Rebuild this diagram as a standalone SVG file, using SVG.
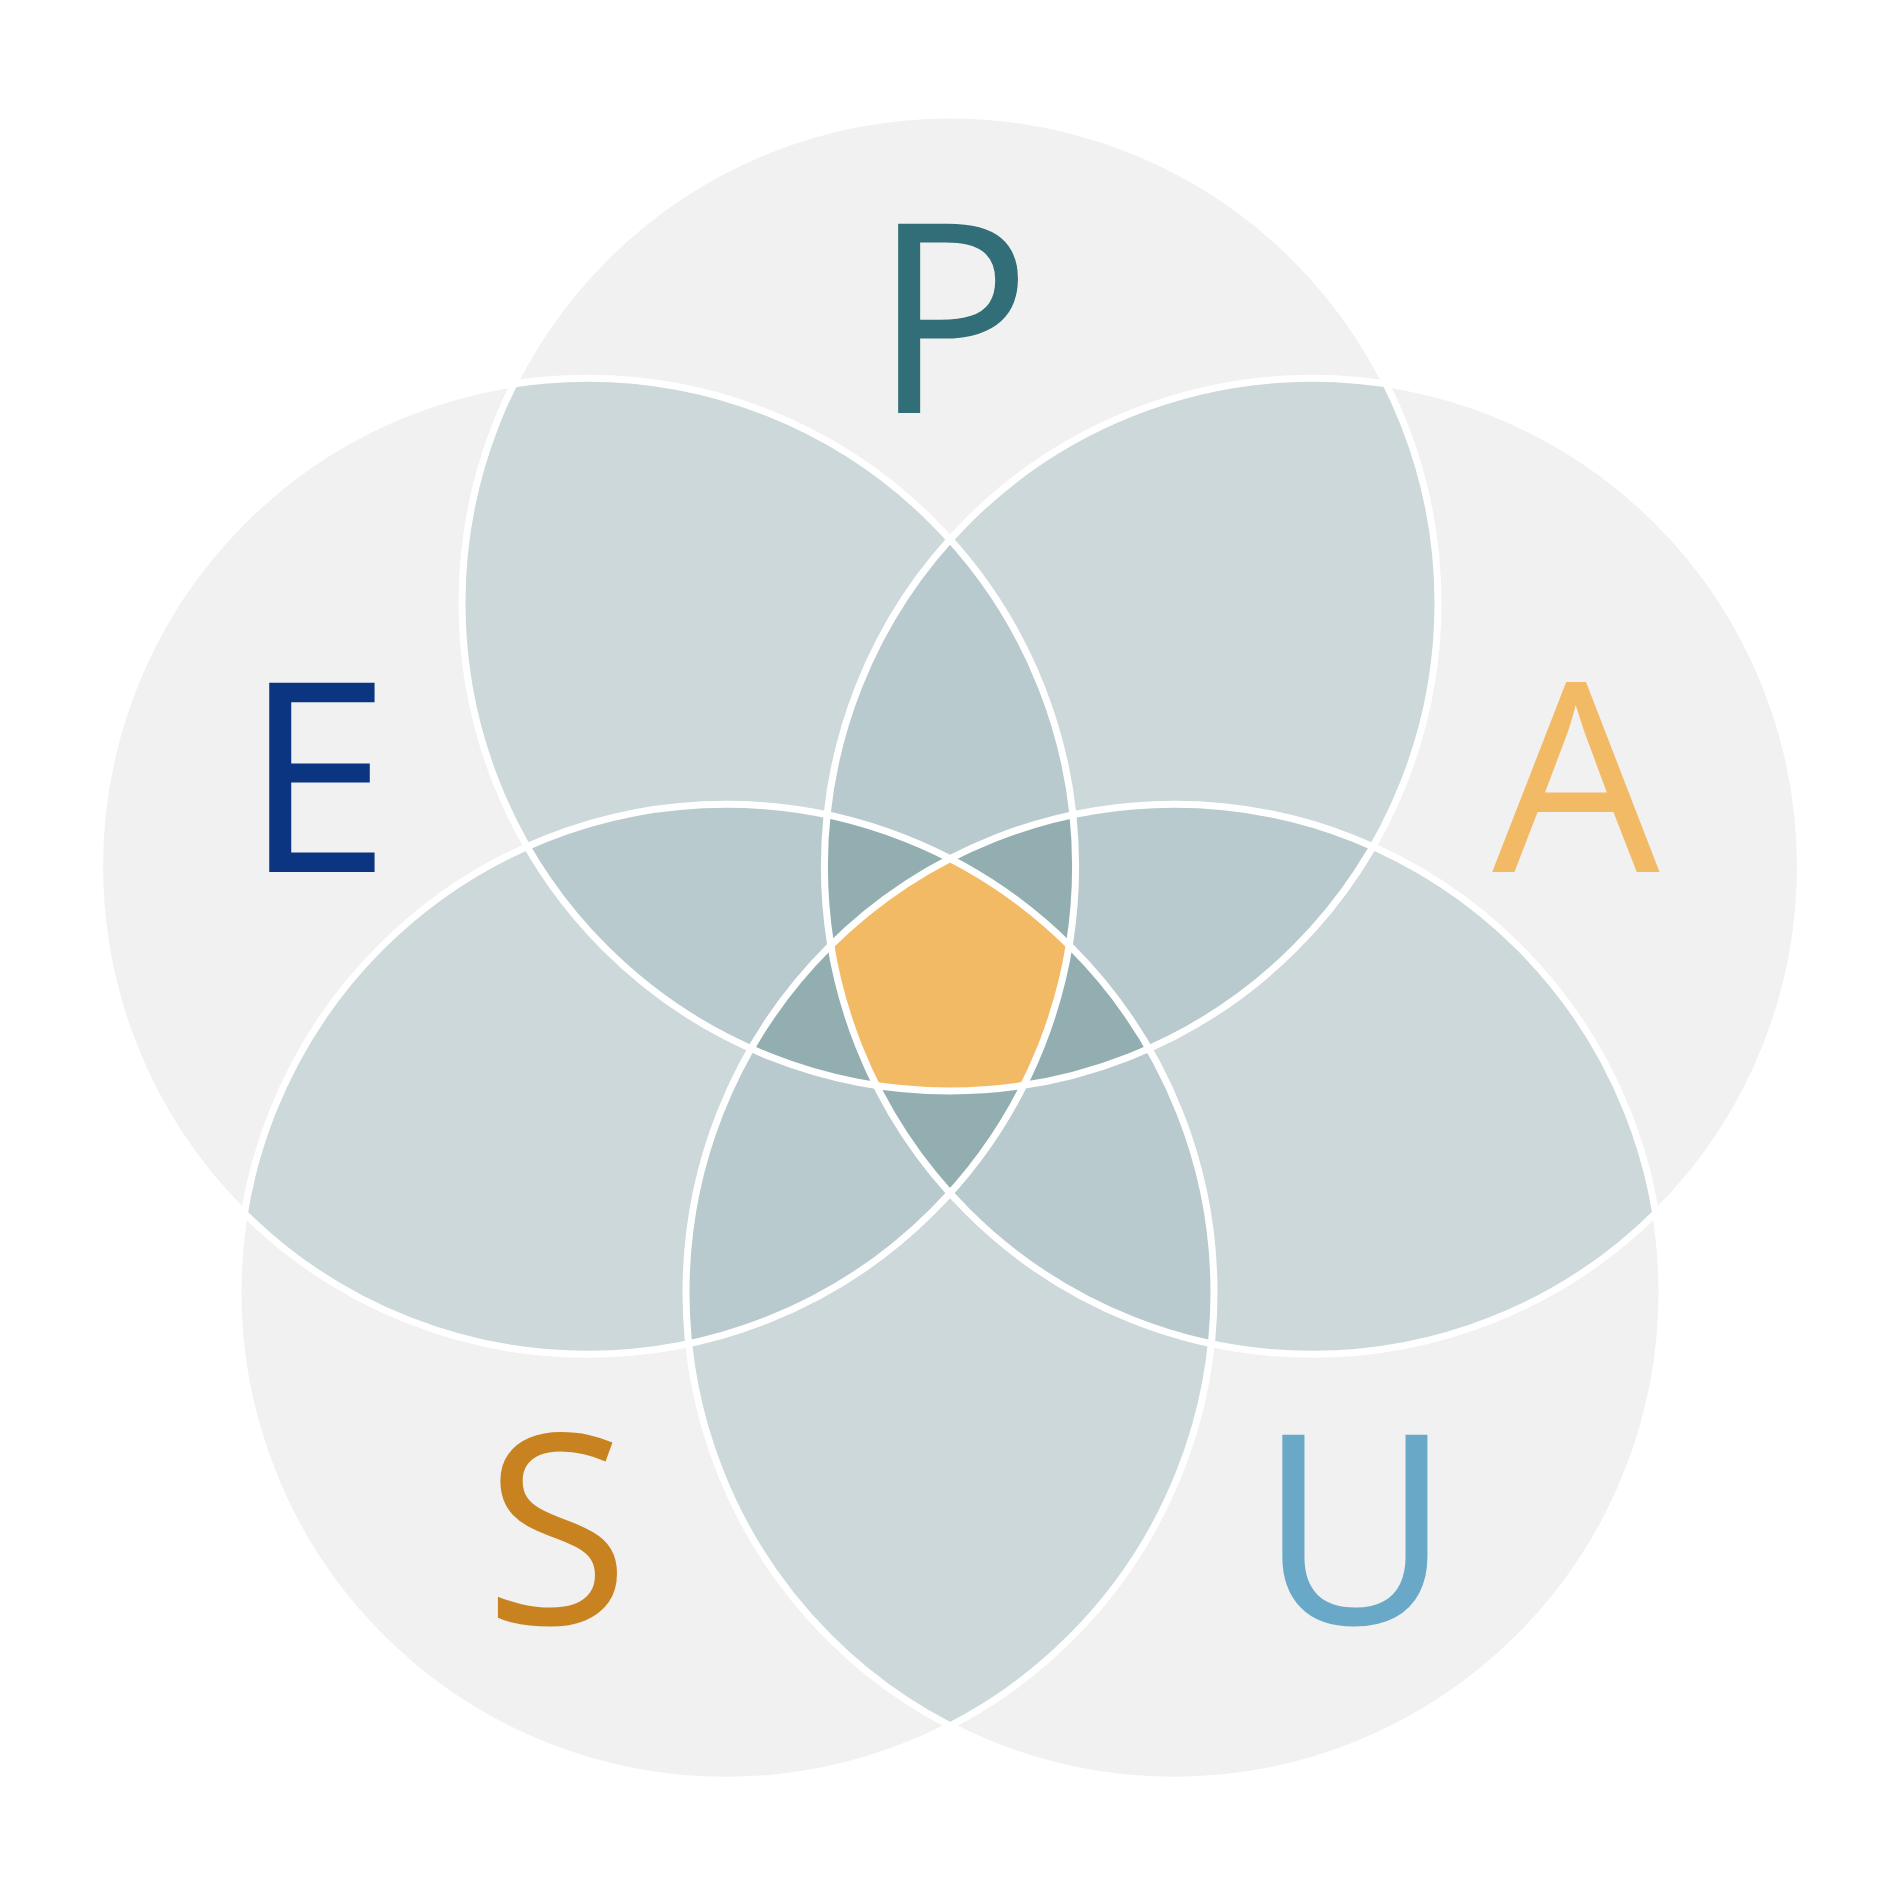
<svg xmlns="http://www.w3.org/2000/svg" xmlns:xlink="http://www.w3.org/1999/xlink" width="1890" height="1890" viewBox="0 0 1890 1890">
<style>
.base{fill:#F0F1F0}
.l2{fill:#CDD8DA}
.l3{fill:#B8CACD}
.l4{fill:#92AEB1}
.l5{fill:#F3BA66}
.ring{fill:none;stroke:#FFFFFF;stroke-width:7}
.lbl{font-family:"Open Sans","Liberation Sans",sans-serif;font-size:265px;font-weight:400;text-anchor:middle}
</style>
<defs>
<circle id="k0" cx="950" cy="603" r="488"/>
<circle id="k1" cx="587.6" cy="866.3" r="488"/>
<circle id="k2" cx="1312.4" cy="866.3" r="488"/>
<circle id="k3" cx="726" cy="1292.2" r="488"/>
<circle id="k4" cx="1174" cy="1292.2" r="488"/>
<clipPath id="c0"><use xlink:href="#k0"/></clipPath>
<clipPath id="c1"><use xlink:href="#k1"/></clipPath>
<clipPath id="c2"><use xlink:href="#k2"/></clipPath>
<clipPath id="c3"><use xlink:href="#k3"/></clipPath>
<clipPath id="c4"><use xlink:href="#k4"/></clipPath>
</defs>
<rect width="1890" height="1890" fill="#FFFFFF"/>
<g id="node-P"><use xlink:href="#k0" class="base"/><text class="lbl" x="952" y="413" fill="#326E78">P</text></g>
<g id="node-E"><use xlink:href="#k1" class="base"/><text class="lbl" x="317" y="872" fill="#0B3580">E</text></g>
<g id="node-A"><use xlink:href="#k2" class="base"/><text class="lbl" x="1576" y="872" fill="#F3BA66">A</text></g>
<g id="node-S"><use xlink:href="#k3" class="base"/><text class="lbl" x="557" y="1624" fill="#C98220">S</text></g>
<g id="node-U"><use xlink:href="#k4" class="base"/><text class="lbl" x="1355" y="1624" fill="#6AA8C8">U</text></g>
<g id="overlaps">
<g clip-path="url(#c1)"><use xlink:href="#k0" class="l2"/></g>
<g clip-path="url(#c2)"><use xlink:href="#k0" class="l2"/></g>
<g clip-path="url(#c3)"><use xlink:href="#k0" class="l2"/></g>
<g clip-path="url(#c4)"><use xlink:href="#k0" class="l2"/></g>
<g clip-path="url(#c2)"><use xlink:href="#k1" class="l2"/></g>
<g clip-path="url(#c3)"><use xlink:href="#k1" class="l2"/></g>
<g clip-path="url(#c4)"><use xlink:href="#k1" class="l2"/></g>
<g clip-path="url(#c3)"><use xlink:href="#k2" class="l2"/></g>
<g clip-path="url(#c4)"><use xlink:href="#k2" class="l2"/></g>
<g clip-path="url(#c4)"><use xlink:href="#k3" class="l2"/></g>
<g clip-path="url(#c2)"><g clip-path="url(#c1)"><use xlink:href="#k0" class="l3"/></g></g>
<g clip-path="url(#c3)"><g clip-path="url(#c1)"><use xlink:href="#k0" class="l3"/></g></g>
<g clip-path="url(#c4)"><g clip-path="url(#c1)"><use xlink:href="#k0" class="l3"/></g></g>
<g clip-path="url(#c3)"><g clip-path="url(#c2)"><use xlink:href="#k0" class="l3"/></g></g>
<g clip-path="url(#c4)"><g clip-path="url(#c2)"><use xlink:href="#k0" class="l3"/></g></g>
<g clip-path="url(#c4)"><g clip-path="url(#c3)"><use xlink:href="#k0" class="l3"/></g></g>
<g clip-path="url(#c3)"><g clip-path="url(#c2)"><use xlink:href="#k1" class="l3"/></g></g>
<g clip-path="url(#c4)"><g clip-path="url(#c2)"><use xlink:href="#k1" class="l3"/></g></g>
<g clip-path="url(#c4)"><g clip-path="url(#c3)"><use xlink:href="#k1" class="l3"/></g></g>
<g clip-path="url(#c4)"><g clip-path="url(#c3)"><use xlink:href="#k2" class="l3"/></g></g>
<g clip-path="url(#c3)"><g clip-path="url(#c2)"><g clip-path="url(#c1)"><use xlink:href="#k0" class="l4"/></g></g></g>
<g clip-path="url(#c4)"><g clip-path="url(#c2)"><g clip-path="url(#c1)"><use xlink:href="#k0" class="l4"/></g></g></g>
<g clip-path="url(#c4)"><g clip-path="url(#c3)"><g clip-path="url(#c1)"><use xlink:href="#k0" class="l4"/></g></g></g>
<g clip-path="url(#c4)"><g clip-path="url(#c3)"><g clip-path="url(#c2)"><use xlink:href="#k0" class="l4"/></g></g></g>
<g clip-path="url(#c4)"><g clip-path="url(#c3)"><g clip-path="url(#c2)"><use xlink:href="#k1" class="l4"/></g></g></g>
<g clip-path="url(#c4)"><g clip-path="url(#c3)"><g clip-path="url(#c2)"><g clip-path="url(#c1)"><use xlink:href="#k0" class="l5"/></g></g></g></g>
</g>
<g id="outlines">
<use xlink:href="#k0" class="ring"/>
<use xlink:href="#k1" class="ring"/>
<use xlink:href="#k2" class="ring"/>
<use xlink:href="#k3" class="ring"/>
<use xlink:href="#k4" class="ring"/>
</g>
</svg>
